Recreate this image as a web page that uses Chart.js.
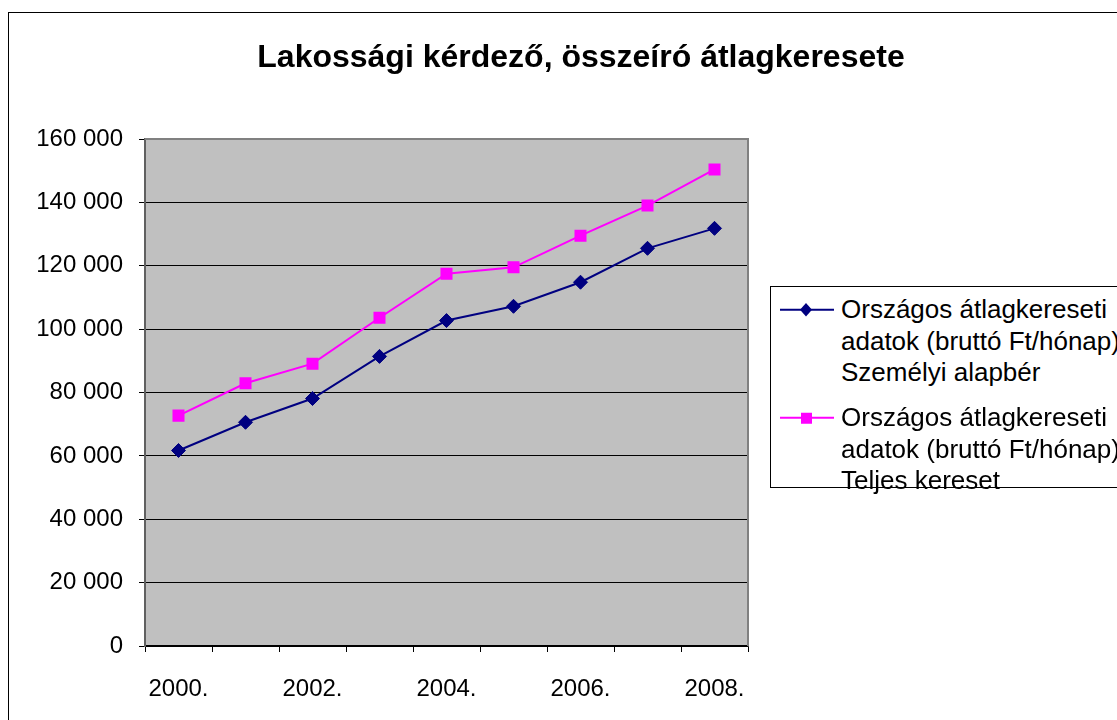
<!DOCTYPE html>
<html>
<head>
<meta charset="utf-8">
<title>Lakossági kérdező, összeíró átlagkeresete</title>
<script src="https://cdn.jsdelivr.net/npm/chart.js@4.4.1/dist/chart.umd.min.js"></script>
<style>
    body { margin: 0; overflow: hidden; background: #fff; font-family: Arial, "Liberation Sans", sans-serif; }
    #frame { position: absolute; left: 8px; top: 12px; width: 1144px; height: 720px; border: 1px solid #000; }
    #chart { position: absolute; left: 0; top: 0; }
    #legend {
        position: absolute; left: 761px; top: 273px; width: 400px; height: 202px;
        box-sizing: border-box; border: 1px solid #000; background: #fff;
        padding-top: 7px; font-size: 26px; line-height: 31.5px; color: #000;
    }
    .item { display: flex; align-items: flex-start; }
    .item + .item { margin-top: 13.5px; }
    .item svg { flex: none; }
    .item span { white-space: pre-line; }
</style>
</head>
<body>
<div id="frame">
    <canvas id="chart" width="1144" height="720"></canvas>
    <div id="legend"></div>
</div>
<script>
const years = ['2000.', '2001.', '2002.', '2003.', '2004.', '2005.', '2006.', '2007.', '2008.'];
const alapber = [61700, 70600, 78100, 91400, 102700, 107200, 114800, 125500, 131800];
const teljes = [72700, 82900, 89100, 103600, 117500, 119500, 129500, 139000, 150400];
const seriesNames = [
    'Országos átlagkereseti\nadatok (bruttó Ft/hónap)\nSzemélyi alapbér',
    'Országos átlagkereseti\nadatok (bruttó Ft/hónap)\nTeljes kereset'
];
const chartTitle = 'Lakossági kérdező, összeíró átlagkeresete';

function formatThousands(v) {
    return String(v).replace(/\B(?=(\d{3})+(?!\d))/g, ' ');
}

const fontFamily = 'Arial, "Liberation Sans", sans-serif';
const font = { family: fontFamily, size: 24 };

// gray plot area with the darker frame on top and right, title centred on the whole canvas
const plotArea = {
    id: 'plotArea',
    beforeDraw(chart) {
        const a = chart.chartArea, ctx = chart.ctx;
        ctx.save();
        ctx.fillStyle = '#C0C0C0';
        ctx.fillRect(a.left, a.top, a.right - a.left, a.bottom - a.top);
        ctx.restore();
    },
    beforeDatasetsDraw(chart) {
        const a = chart.chartArea, ctx = chart.ctx;
        ctx.save();
        ctx.strokeStyle = '#808080';
        ctx.lineWidth = 2;
        ctx.beginPath();
        ctx.moveTo(a.left, a.top);
        ctx.lineTo(a.right, a.top);
        ctx.lineTo(a.right, a.bottom);
        ctx.stroke();
        ctx.restore();
    },
    afterDraw(chart) {
        const ctx = chart.ctx;
        ctx.save();
        ctx.fillStyle = '#000';
        ctx.font = 'bold 32px ' + fontFamily;
        ctx.textAlign = 'center';
        ctx.textBaseline = 'middle';
        ctx.fillText(chartTitle, chart.width / 2, 45);
        ctx.restore();
    }
};

const chart = new Chart(document.getElementById('chart'), {
    type: 'line',
    data: {
        labels: years,
        datasets: [{
            label: seriesNames[0],
            data: alapber,
            borderColor: '#000080',
            backgroundColor: '#000080',
            borderWidth: 2,
            pointStyle: 'rectRot',
            pointRadius: 7,
            pointBorderWidth: 1,
            tension: 0
        }, {
            label: seriesNames[1],
            data: teljes,
            borderColor: '#FF00FF',
            backgroundColor: '#FF00FF',
            borderWidth: 2,
            pointStyle: 'rect',
            pointRadius: 8.5,
            pointBorderWidth: 0,
            tension: 0
        }]
    },
    options: {
        responsive: false,
        animation: false,
        layout: { padding: { left: 0, right: 405, top: 126, bottom: 27 } },
        plugins: {
            legend: { display: false },
            tooltip: { enabled: false },
            title: { display: false }
        },
        scales: {
            x: {
                offset: true,
                afterFit: s => { s.height = 60; },
                grid: { offset: true, drawOnChartArea: false, tickLength: 6, color: '#000', tickColor: '#000' },
                border: { color: '#000', width: 1.5 },
                ticks: {
                    autoSkip: false, maxRotation: 0, padding: 23, color: '#000', font: font,
                    callback: (v, i) => (i % 2 === 0 ? years[i] : '')
                }
            },
            y: {
                min: 0, max: 160000,
                afterFit: s => { s.width = 136; },
                grid: { color: '#000', lineWidth: 1, tickLength: 6, tickColor: '#000' },
                border: { color: '#606060', width: 2 },
                ticks: { stepSize: 20000, padding: 16, color: '#000', font: font, callback: v => formatThousands(v) }
            }
        }
    },
    plugins: [plotArea]
});

// legend built from the chart's datasets
const legend = document.getElementById('legend');
chart.data.datasets.forEach(ds => {
    const item = document.createElement('div');
    item.className = 'item';
    const marker = ds.pointStyle === 'rectRot'
        ? '<polygon points="35,9 41,15.75 35,22.5 29,15.75" fill="' + ds.borderColor + '"/>'
        : '<rect x="30" y="10.75" width="11" height="11" fill="' + ds.borderColor + '"/>';
    item.innerHTML = '<svg width="70" height="31.5"><line x1="9" y1="15.75" x2="63" y2="15.75" stroke="' +
        ds.borderColor + '" stroke-width="2"/>' + marker + '</svg><span></span>';
    item.querySelector('span').textContent = ds.label;
    legend.appendChild(item);
});
</script>
</body>
</html>
